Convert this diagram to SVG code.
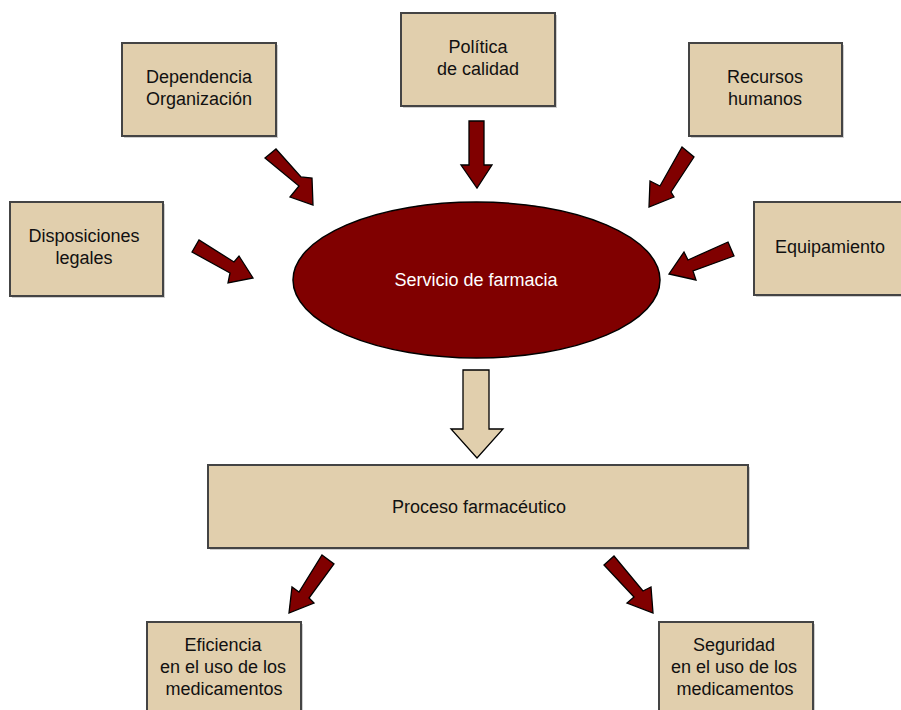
<svg xmlns="http://www.w3.org/2000/svg" width="901" height="710" viewBox="0 0 901 710">
  <style>
    .box { fill: #e1cfad; stroke: #444; stroke-width: 2; }
    .shadow { fill: #cfcfcf; }
    .lbl { font-family: "Liberation Sans", Arial, sans-serif; font-size: 18px; fill: #111; text-anchor: middle; }
    .arrow { fill: #800000; stroke: #000; stroke-width: 1.3; stroke-linejoin: miter; }
    .hollow { fill: #e1cfad; stroke: #000; stroke-width: 1.3; }
  </style>
  <rect width="901" height="710" fill="#fff"/>

  <g id="dependencia">
    <rect class="shadow" x="124" y="45" width="154" height="93"/>
    <rect class="box" x="122" y="43" width="154" height="93"/>
    <text class="lbl" x="199" y="83">Dependencia</text>
    <text class="lbl" x="199" y="105">Organización</text>
  </g>

  <g id="politica">
    <rect class="shadow" x="403" y="15" width="154" height="93"/>
    <rect class="box" x="401" y="13" width="154" height="93"/>
    <text class="lbl" x="478" y="53">Política</text>
    <text class="lbl" x="478" y="75">de calidad</text>
  </g>

  <g id="recursos">
    <rect class="shadow" x="691" y="45" width="153" height="93"/>
    <rect class="box" x="689" y="43" width="153" height="93"/>
    <text class="lbl" x="765" y="83">Recursos</text>
    <text class="lbl" x="765" y="105">humanos</text>
  </g>

  <g id="disposiciones">
    <rect class="shadow" x="12" y="204" width="153" height="94"/>
    <rect class="box" x="10" y="202" width="153" height="94"/>
    <text class="lbl" x="84" y="242">Disposiciones</text>
    <text class="lbl" x="84" y="264">legales</text>
  </g>

  <g id="equipamiento">
    <rect class="shadow" x="756" y="204" width="153" height="93"/>
    <rect class="box" x="754" y="202" width="153" height="93"/>
    <text class="lbl" x="830" y="253">Equipamiento</text>
  </g>

  <g id="servicio">
    <ellipse cx="476.5" cy="280" rx="183.5" ry="78" fill="#800000" stroke="#000" stroke-width="1.5"/>
    <text class="lbl" x="476" y="286" style="fill:#fff">Servicio de farmacia</text>
  </g>

  <g id="proceso">
    <rect class="shadow" x="210" y="467" width="540" height="83"/>
    <rect class="box" x="208" y="465" width="540" height="83"/>
    <text class="lbl" x="479" y="513">Proceso farmacéutico</text>
  </g>

  <g id="eficiencia">
    <rect class="shadow" x="149" y="624" width="154" height="100"/>
    <rect class="box" x="147" y="622" width="154" height="100"/>
    <text class="lbl" x="223" y="651">Eficiencia</text>
    <text class="lbl" x="223" y="673">en el uso de los</text>
    <text class="lbl" x="224" y="695">medicamentos</text>
  </g>

  <g id="seguridad">
    <rect class="shadow" x="661" y="624" width="154" height="100"/>
    <rect class="box" x="659" y="622" width="154" height="100"/>
    <text class="lbl" x="734" y="651">Seguridad</text>
    <text class="lbl" x="734" y="673">en el uso de los</text>
    <text class="lbl" x="735" y="695">medicamentos</text>
  </g>

  <g id="connectors">
    <!-- Dependencia -> Servicio -->
    <polygon class="arrow" points="265,158 276,149 301,177 312,178 313,205 290,197 299,186"/>
    <!-- Política -> Servicio -->
    <polygon class="arrow" points="469,121 484,121 484,165 492,165 477,188 461,165 469,165"/>
    <!-- Recursos -> Servicio -->
    <polygon class="arrow" points="682,147 694,157 671,192 674,197 649,207 650,181 660,186"/>
    <!-- Equipamiento -> Servicio -->
    <polygon class="arrow" points="728,242 734,256 693,271 696,280 669,274 684,252 688,260"/>
    <!-- Disposiciones -> Servicio -->
    <polygon class="arrow" points="192,252 199,240 234,262 239,256 253,278 228,283 230,273"/>
    <!-- Servicio -> Proceso (hollow) -->
    <polygon class="hollow" points="463,370 489,370 489,429 503,429 477,458 451,429 463,429"/>
    <!-- Proceso -> Eficiencia -->
    <polygon class="arrow" points="322,555 334,564 309,598 314,603 289,613 292,587 299,592"/>
    <!-- Proceso -> Seguridad -->
    <polygon class="arrow" points="604,565 614,556 643,591 651,587 653,613 627,603 634,597"/>
  </g>
</svg>
